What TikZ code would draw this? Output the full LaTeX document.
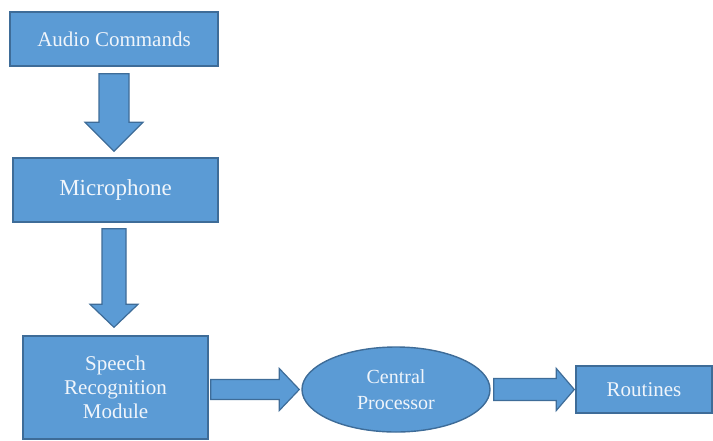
\documentclass[tikz,border=0pt]{standalone}
\usepackage{fontspec}
\setmainfont{LiberationSerif}[Extension=.ttf, UprightFont=*-Regular, BoldFont=*-Bold]
\usetikzlibrary{calc,shapes.geometric}

\definecolor{boxblue}{RGB}{91,155,213}
\definecolor{boxline}{RGB}{62,108,152}
\definecolor{boxtext}{RGB}{240,245,251}

\begin{document}
\begin{tikzpicture}[x=1pt,y=-1pt,
  box/.style={draw=boxline, fill=boxblue, line width=1.4pt, text=boxtext, align=center, inner sep=0pt, font=\rmfamily\fontsize{21}{24}\selectfont},
  blockdown/.style n args={3}{draw=boxline, fill=boxblue, line width=1.2pt, line join=miter,
    to path={let \p1=(\tikztostart), \p2=(\tikztotarget) in
      (\x1-#1,\y1) -- (\x1+#1,\y1) -- (\x1+#1,\y2+#3) -- (\x1+#2,\y2+#3) -- (\x1,\y2)
      -- (\x1-#2,\y2+#3) -- (\x1-#1,\y2+#3) -- cycle}},
  blockright/.style n args={3}{draw=boxline, fill=boxblue, line width=1.2pt, line join=miter,
    to path={let \p1=(\tikztostart), \p2=(\tikztotarget) in
      (\x1,\y1+#1) -- (\x2-#3,\y1+#1) -- (\x2-#3,\y1+#2) -- (\x2,\y1)
      -- (\x2-#3,\y1-#2) -- (\x2-#3,\y1-#1) -- (\x1,\y1-#1) -- cycle}}]

\useasboundingbox (0,0) rectangle (713,440);

\coordinate (A) at (114,39);
\node[box, minimum width=208pt, minimum height=54pt] (audio) at (A) {Audio Commands};

\coordinate (M) at (115.5,190);
\node[box, minimum width=205pt, minimum height=64pt, font=\rmfamily\fontsize{23}{26}\selectfont] (mic) at (M) {Microphone};

\coordinate (S) at (115.5,387.5);
\node[box, minimum width=185pt, minimum height=103pt] (speech) at (S) {Speech\\Recognition\\Module};

\coordinate (C) at (396,389.5);
\node[box, ellipse, inner sep=0pt, minimum width=188pt, minimum height=85pt, font=\rmfamily\fontsize{20}{26}\selectfont] (cpu) at (C) {Central\\Processor};

\coordinate (R) at (644,389.5);
\node[box, minimum width=136pt, minimum height=47pt] (routines) at (R) {Routines};

% block arrows
\draw[blockdown={15}{29}{29}] ([yshift=-7pt]audio.south) to ([yshift=6pt]mic.north);
\draw[blockdown={12}{24}{23}] ([xshift=-1.5pt,yshift=-6pt]mic.south) to ([yshift=8pt]speech.north);
\draw[blockright={10}{21}{20}] ([xshift=2pt]speech.east |- cpu.west) to ([xshift=-2pt]cpu.west);
\draw[blockright={11}{21}{18}] ([xshift=3pt]cpu.east) to ([xshift=-1pt]routines.west);

\end{tikzpicture}
\end{document}
